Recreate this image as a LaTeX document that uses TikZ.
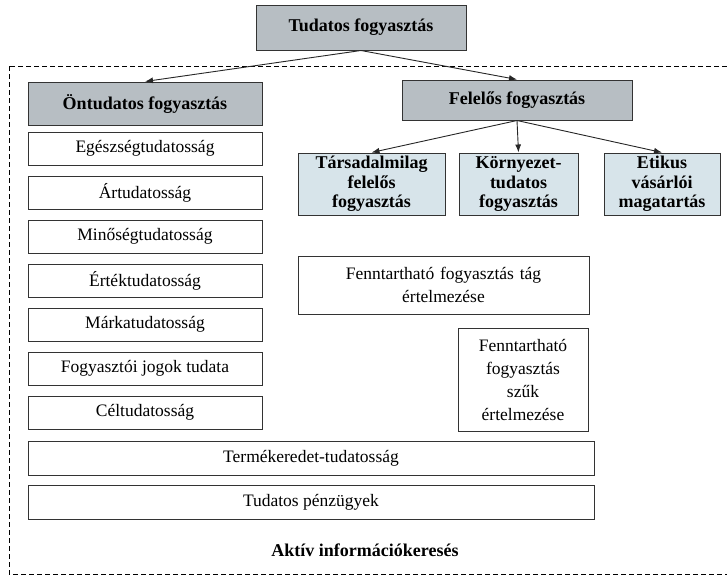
\documentclass[tikz,border=0pt]{standalone}
\usepackage{fontspec}
\setmainfont{Liberation Serif}
\usetikzlibrary{arrows.meta}
\definecolor{headgray}{HTML}{B7BEC3}
\definecolor{subblue}{HTML}{D7E4EA}
\begin{document}
\begin{tikzpicture}[x=1pt,y=-1pt,
	box/.style={draw=black!80, line width=1pt, inner sep=0pt, align=center, font=\fontsize{17.5}{23}\selectfont},
	head/.style={box, fill=headgray, font=\fontsize{18}{20}\selectfont\bfseries},
	sub/.style={box, fill=subblue, font=\fontsize{18}{19.5}\selectfont\bfseries},
	arr/.style={-{Latex[length=8pt,width=6pt]}, line width=0.9pt, black!85}]
	\useasboundingbox (0,0) rectangle (727,579);
	\draw[line width=0.9pt, dash pattern=on 5pt off 3pt] (9,66) rectangle (740,574);
	% fels\H{o} szint
	\node[head, minimum width=210pt, minimum height=45pt] (tud) at (361,27.5) {Tudatos fogyaszt\'as};
	\node[head, minimum width=234pt, minimum height=43pt] (ont) at (145,103.5) {\"Ontudatos fogyaszt\'as};
	\node[head, minimum width=230pt, minimum height=40pt] (fel) at (517,100) {Felel\H{o}s fogyaszt\'as};
	% bal oszlop
	\node[box, minimum width=234pt, minimum height=33pt] (egesz) at (145,148.5) {Eg\'eszs\'egtudatoss\'ag};
	\node[box, minimum width=234pt, minimum height=33pt] (ar) at (145,192.5) {\'Artudatoss\'ag};
	\node[box, minimum width=234pt, minimum height=33pt] (min) at (145,236.5) {Min\H{o}s\'egtudatoss\'ag};
	\node[box, minimum width=234pt, minimum height=33pt] (ertek) at (145,280.5) {\'Ert\'ektudatoss\'ag};
	\node[box, minimum width=234pt, minimum height=33pt] (marka) at (145,324.5) {M\'arkatudatoss\'ag};
	\node[box, minimum width=234pt, minimum height=33pt] (jog) at (145,368.5) {Fogyaszt\'oi jogok tudata};
	\node[box, minimum width=234pt, minimum height=33pt] (cel) at (145,412.5) {C\'eltudatoss\'ag};
	\node[box, minimum width=566pt, minimum height=34pt] (term) at (311,458) {Term\'ekeredet-tudatoss\'ag};
	\node[box, minimum width=566pt, minimum height=34pt] (penz) at (311,502) {Tudatos p\'enz\"ugyek};
	\node[font=\fontsize{18}{20}\selectfont\bfseries] (akt) at (365,550) {Akt\'iv inform\'aci\'okeres\'es};
	% jobb oldal
	\node[sub, minimum width=147pt, minimum height=62pt, text width=140pt] (tars) at (371.5,184) {T\'arsadalmilag\\felel\H{o}s\\fogyaszt\'as};
	\node[sub, minimum width=119pt, minimum height=62pt, text width=112pt] (korny) at (518.5,184) {K\"ornyezet-\\tudatos\\fogyaszt\'as};
	\node[sub, minimum width=116pt, minimum height=62pt, text width=110pt] (etik) at (662,184) {Etikus\\v\'as\'arl\'oi\\magatart\'as};
	\node[box, minimum width=291pt, minimum height=58pt, text width=280pt] (tag) at (443.5,285) {Fenntarthat\'o fogyaszt\'as t\'ag\\\'ertelmez\'ese};
	\node[box, minimum width=130pt, minimum height=103pt, text width=124pt] (szuk) at (523,379.5) {Fenntarthat\'o\\fogyaszt\'as\\sz\H{u}k\\\'ertelmez\'ese};
	% nyilak
	\draw[arr] (tud.south) -- (ont.north);
	\draw[arr] (tud.south) -- (fel.north);
	\draw[arr] (fel.south) -- (tars.north);
	\draw[arr] (fel.south) -- (korny.north);
	\draw[arr] (fel.south) -- (etik.north);
\end{tikzpicture}
\end{document}
